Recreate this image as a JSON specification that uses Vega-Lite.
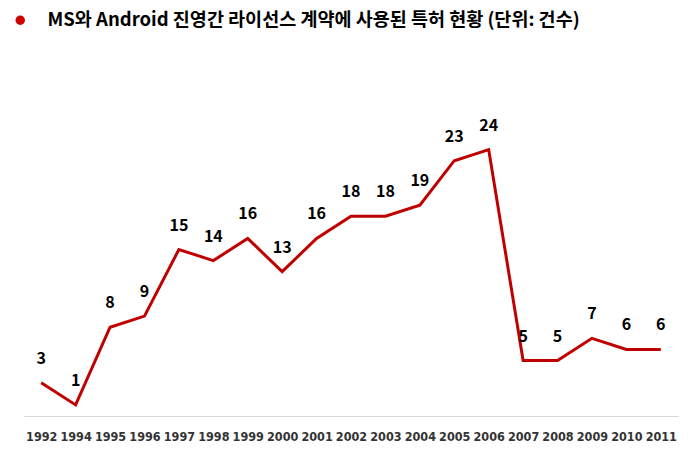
{
  "$schema": "https://vega.github.io/schema/vega-lite/v6.json",
  "autosize": {"type": "none"},
  "width": 654,
  "height": 333,
  "padding": {"left": 24, "top": 83, "right": 22, "bottom": 42},
  "background": "white",
  "config": {"view": {"stroke": null}},
  "data": {
    "values": [
      {"year": "1992", "count": 3, "series": "MS와 Android 진영간 라이선스 계약에 사용된 특허 현황 (단위: 건수)"},
      {"year": "1994", "count": 1, "series": "MS와 Android 진영간 라이선스 계약에 사용된 특허 현황 (단위: 건수)"},
      {"year": "1995", "count": 8, "series": "MS와 Android 진영간 라이선스 계약에 사용된 특허 현황 (단위: 건수)"},
      {"year": "1996", "count": 9, "series": "MS와 Android 진영간 라이선스 계약에 사용된 특허 현황 (단위: 건수)"},
      {"year": "1997", "count": 15, "series": "MS와 Android 진영간 라이선스 계약에 사용된 특허 현황 (단위: 건수)"},
      {"year": "1998", "count": 14, "series": "MS와 Android 진영간 라이선스 계약에 사용된 특허 현황 (단위: 건수)"},
      {"year": "1999", "count": 16, "series": "MS와 Android 진영간 라이선스 계약에 사용된 특허 현황 (단위: 건수)"},
      {"year": "2000", "count": 13, "series": "MS와 Android 진영간 라이선스 계약에 사용된 특허 현황 (단위: 건수)"},
      {"year": "2001", "count": 16, "series": "MS와 Android 진영간 라이선스 계약에 사용된 특허 현황 (단위: 건수)"},
      {"year": "2002", "count": 18, "series": "MS와 Android 진영간 라이선스 계약에 사용된 특허 현황 (단위: 건수)"},
      {"year": "2003", "count": 18, "series": "MS와 Android 진영간 라이선스 계약에 사용된 특허 현황 (단위: 건수)"},
      {"year": "2004", "count": 19, "series": "MS와 Android 진영간 라이선스 계약에 사용된 특허 현황 (단위: 건수)"},
      {"year": "2005", "count": 23, "series": "MS와 Android 진영간 라이선스 계약에 사용된 특허 현황 (단위: 건수)"},
      {"year": "2006", "count": 24, "series": "MS와 Android 진영간 라이선스 계약에 사용된 특허 현황 (단위: 건수)"},
      {"year": "2007", "count": 5, "series": "MS와 Android 진영간 라이선스 계약에 사용된 특허 현황 (단위: 건수)"},
      {"year": "2008", "count": 5, "series": "MS와 Android 진영간 라이선스 계약에 사용된 특허 현황 (단위: 건수)"},
      {"year": "2009", "count": 7, "series": "MS와 Android 진영간 라이선스 계약에 사용된 특허 현황 (단위: 건수)"},
      {"year": "2010", "count": 6, "series": "MS와 Android 진영간 라이선스 계약에 사용된 특허 현황 (단위: 건수)"},
      {"year": "2011", "count": 6, "series": "MS와 Android 진영간 라이선스 계약에 사용된 특허 현황 (단위: 건수)"}
    ]
  },
  "encoding": {
    "x": {
      "field": "year",
      "type": "ordinal",
      "scale": {"type": "point", "padding": 0.5},
      "axis": {
        "title": null,
        "labelAngle": 0,
        "ticks": false,
        "grid": false,
        "domainColor": "#d9d9d9",
        "domainWidth": 1,
        "labelFont": "DejaVu Sans Condensed",
        "labelFontSize": 12.5,
        "labelFontWeight": "bold",
        "labelColor": "#333333",
        "labelPadding": 14,
        "labelBaseline": "top"
      }
    },
    "y": {
      "field": "count",
      "type": "quantitative",
      "scale": {"domain": [0, 30], "nice": false},
      "axis": null
    }
  },
  "layer": [
    {
      "mark": {"type": "line", "strokeWidth": 3, "strokeJoin": "miter"},
      "encoding": {
        "color": {
          "field": "series",
          "type": "nominal",
          "scale": {"range": ["#c00000"]},
          "legend": {
            "title": null,
            "orient": "none",
            "legendX": -13,
            "legendY": -72,
            "symbolType": "circle",
            "symbolSize": 90,
            "symbolStrokeWidth": 0,
            "symbolFillColor": "#d00000",
            "labelFont": "Noto Sans CJK KR",
            "labelFontSize": 18.5,
            "labelFontWeight": "bold",
            "labelColor": "#000000",
            "labelLimit": 0,
            "labelOffset": 18
          }
        }
      }
    },
    {
      "mark": {
        "type": "text",
        "dy": -24,
        "baseline": "middle",
        "align": "center",
        "font": "Noto Sans CJK KR",
        "fontSize": 16,
        "fontWeight": "bold",
        "color": "#000000"
      },
      "encoding": {"text": {"field": "count", "type": "quantitative"}}
    }
  ]
}
